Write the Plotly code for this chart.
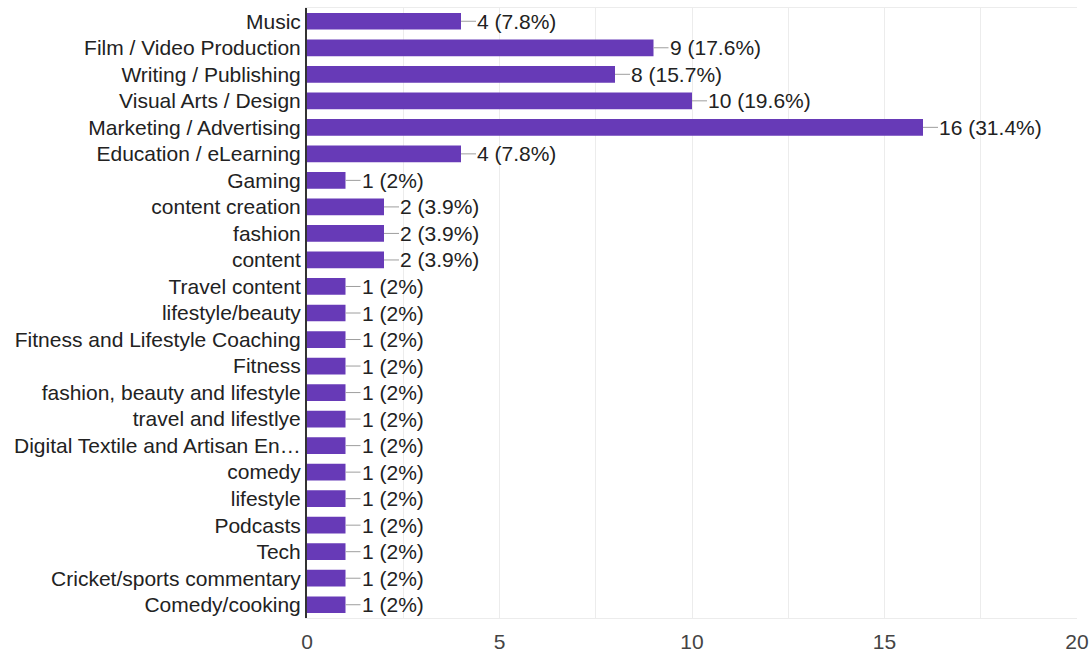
import plotly.graph_objects as go

# Survey responses per creative field (multi-select, 51 respondents)
categories = [
    "Music",
    "Film / Video Production",
    "Writing / Publishing",
    "Visual Arts / Design",
    "Marketing / Advertising",
    "Education / eLearning",
    "Gaming",
    "content creation",
    "fashion",
    "content",
    "Travel content",
    "lifestyle/beauty",
    "Fitness and Lifestyle Coaching",
    "Fitness",
    "fashion, beauty and lifestyle",
    "travel and lifestlye",
    "Digital Textile and Artisan En…",
    "comedy",
    "lifestyle",
    "Podcasts",
    "Tech",
    "Cricket/sports commentary",
    "Comedy/cooking",
]
counts = [4, 9, 8, 10, 16, 4, 1, 2, 2, 2, 1, 1, 1, 1, 1, 1, 1, 1, 1, 1, 1, 1, 1]
respondents = 51

x_ticks = [0, 5, 10, 15, 20]

BAR = "#673ab7"
FONT = "Liberation Sans, Arial, sans-serif"
SIZE = 21


def pct_label(n):
    p = round(100 * n / respondents, 1)
    s = f"{p:.1f}".rstrip("0").rstrip(".")
    return f"{n} ({s}%)"


fig = go.Figure(
    go.Bar(
        x=counts,
        y=categories,
        orientation="h",
        marker=dict(color=BAR, line=dict(width=0)),
        hoverinfo="skip",
    )
)

# value labels with a short grey leader line from the bar end
for cat, n in zip(categories, counts):
    fig.add_annotation(
        x=n,
        y=cat,
        xref="x",
        yref="y",
        text=pct_label(n),
        showarrow=True,
        arrowhead=0,
        arrowwidth=1,
        arrowcolor="#9e9e9e",
        ax=15,
        ay=0,
        standoff=0,
        xanchor="left",
        yanchor="middle",
        borderpad=0,
        font=dict(family=FONT, size=SIZE, color="#222222"),
    )

fig.update_layout(
    width=1089,
    height=653,
    margin=dict(l=307, r=12, t=8, b=35),
    paper_bgcolor="white",
    plot_bgcolor="white",
    bargap=0.37,
    showlegend=False,
    font=dict(family=FONT, size=SIZE, color="#222222"),
)

fig.update_xaxes(
    range=[0, 20],
    tickvals=x_ticks,
    ticktext=[str(v) for v in x_ticks],
    showgrid=True,
    gridcolor="#ececec",
    gridwidth=1,
    minor=dict(dtick=2.5, tick0=0, showgrid=True, gridcolor="#ececec", gridwidth=1),
    zeroline=False,
    showline=True,
    linecolor="#ececec",
    linewidth=1,
    mirror=True,
    ticks="",
    ticklabelstandoff=5,
    tickfont=dict(family=FONT, size=SIZE, color="#444444"),
    automargin=False,
    fixedrange=True,
)

fig.update_yaxes(
    autorange="reversed",
    showgrid=False,
    showline=True,
    linecolor="#333333",
    linewidth=2,
    ticks="",
    ticklabelstandoff=0,
    tickfont=dict(family=FONT, size=SIZE, color="#222222"),
    automargin=False,
    fixedrange=True,
)

fig.write_html("out.html")
